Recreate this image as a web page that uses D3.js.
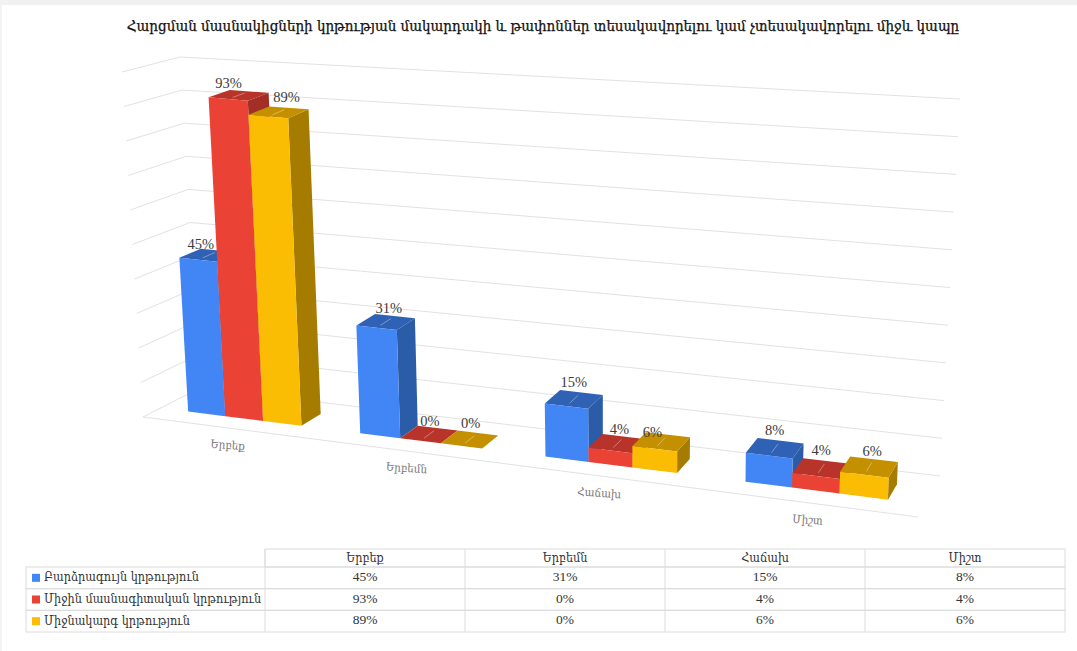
<!DOCTYPE html>
<html>
<head>
<meta charset="utf-8">
<script src="https://cdn.jsdelivr.net/npm/d3@7"></script>
<style>
  html, body { margin: 0; padding: 0; background: #fff; }
  svg { display: block; }
  text { font-family: "DejaVu Serif", "Liberation Serif", serif; font-stretch: condensed; }
  .num { font-family: "Liberation Serif", "DejaVu Serif", serif; font-stretch: normal; }
</style>
</head>
<body>
<div id="container"></div>
<script>
//---------- DATA ----------//
const title = "Հարցման մասնակիցների կրթության մակարդակի և թափոններ տեսակավորելու կամ չտեսակավորելու միջև կապը";
const categories = ["Երբեք", "Երբեմն", "Հաճախ", "Միշտ"];
const seriesNames = ["Բարձրագույն կրթություն", "Միջին մասնագիտական կրթություն", "Միջնակարգ կրթություն"];
const higher = [45, 31, 15, 8];
const vocational = [93, 0, 4, 4];
const secondary = [89, 0, 6, 6];
const gridValues = [0, 10, 20, 30, 40, 50, 60, 70, 80, 90, 100];

const seriesValues = [higher, vocational, secondary];
const front = ["#4285f4", "#ea4335", "#fbbc04"];
const side = ["#2a5ca8", "#a32e25", "#a67c00"];
const top_ = ["#2f62b5", "#b8342a", "#c49000"];

//---------- SVG ----------//
const width = 1077;
const height = 651;

const svg = d3.select("div#container")
    .append("svg")
    .attr("width", width)
    .attr("height", height);

// faint edge of the screenshot
svg.append("rect").attr("width", width).attr("height", 5).attr("fill", "#f1f1f1");
svg.append("rect").attr("y", 5).attr("width", 2).attr("height", height).attr("fill", "#f4f4f4");

svg.append("text")
    .attr("x", 543)
    .attr("y", 27)
    .attr("text-anchor", "middle")
    .attr("dominant-baseline", "middle")
    .attr("font-size", 15)
    .attr("fill", "#111")
    .attr("stroke", "#111")
    .attr("stroke-width", 0.25)
    .text(title);

//---------- SCALES ----------//
// corners of the 3d box as they land on the picture
const corners = {
    flb: [143, 417], flt: [122, 72], blb: [200, 388], blt: [180, 57],
    frb: [918, 517], frt: [925, 155], brb: [940, 476], brt: [960, 99]
};
const vanish = 1.165; // right hand side is nearer to the viewer

const xBand = d3.scaleBand().domain(categories).range([0, 1]).paddingInner(1 / 3).paddingOuter(1 / 6);
const xInner = d3.scaleBand().domain(seriesNames).range([0, xBand.bandwidth()]);
const yScale = d3.scaleLinear().domain([0, 100]).range([0, 1]);
const barFront = 0.31, barBack = 0.69;

const mix = (a, b, t) => [a[0] + (b[0] - a[0]) * t, a[1] + (b[1] - a[1]) * t];

// t along the categories, v the value, z the depth
function project(t, v, z) {
    const s = t / (t + vanish * (1 - t));
    const u = yScale(v);
    const fb = mix(corners.flb, corners.frb, s), ft = mix(corners.flt, corners.frt, s);
    const bb = mix(corners.blb, corners.brb, s), bt = mix(corners.blt, corners.brt, s);
    return mix(mix(fb, ft, u), mix(bb, bt, u), z);
}
const line = d3.line();
const closed = d3.line().curve(d3.curveLinearClosed);

//---------- GRID ----------//
const grid = svg.append("g")
    .attr("fill", "none")
    .attr("stroke", "#e2e2e2")
    .attr("stroke-width", 1);

gridValues.forEach(v => {
    grid.append("path").attr("d", line([project(0, v, 0), project(0, v, 1), project(1, v, 1)]));
});
grid.append("path").attr("d", line([project(0, 0, 0), project(1, 0, 0)]));

//---------- BARS ----------//
categories.forEach((c, i) => {
    const g = svg.append("g").attr("class", "group");
    seriesNames.forEach((name, j) => {
        const t0 = xBand(c) + xInner(name);
        const t1 = t0 + xInner.bandwidth();
        const v = seriesValues[j][i];
        const tm = (t0 + t1) / 2;

        g.append("path").attr("fill", side[j]).attr("d", closed([
            project(t1, 0, barFront), project(t1, 0, barBack), project(t1, v, barBack), project(t1, v, barFront)]));
        g.append("path").attr("fill", top_[j]).attr("d", closed([
            project(t0, v, barFront), project(t1, v, barFront), project(t1, v, barBack), project(t0, v, barBack)]));
        g.append("path").attr("fill", front[j]).attr("d", closed([
            project(t0, 0, barFront), project(t1, 0, barFront), project(t1, v, barFront), project(t0, v, barFront)]));
        // pale tick on the top face
        g.append("path")
            .attr("fill", "none")
            .attr("stroke", "#fff")
            .attr("stroke-opacity", 0.35)
            .attr("d", line([project(tm, v, barFront + 0.08), project(tm, v, barBack - 0.08)]));
    });
});

//---------- LABELS ----------//
const labels = svg.append("g")
    .attr("class", "num")
    .attr("font-size", 14.5)
    .attr("fill", "#3c3c3c")
    .attr("text-anchor", "middle")
    .attr("dominant-baseline", "middle");

// the chart moved some labels off the tall bars, keyed series-category
const nudge = {
    "0-0": [-8, 4], "1-0": [-10, 2], "2-0": [8, 0],
    "0-1": [3, 3], "1-1": [1, 4], "2-1": [1, 1],
    "1-2": [2, 3], "2-2": [-9, 8], "2-3": [3, 2]
};

categories.forEach((c, i) => {
    seriesNames.forEach((name, j) => {
        const tm = xBand(c) + xInner(name) + xInner.bandwidth() / 2;
        const v = seriesValues[j][i];
        const p = project(tm, v, (barFront + barBack) / 2);
        const b = project(tm, v, barBack);
        const n = nudge[j + "-" + i] || [0, 0];
        labels.append("text")
            .attr("class", "num")
            .attr("x", p[0] + n[0])
            .attr("y", b[1] - 9 + n[1])
            .text(v + "%");
    });
    const tm = xBand(c) + xBand.bandwidth() / 2;
    const p = project(tm, 0, 0);
    svg.append("text")
        .attr("text-anchor", "middle")
        .attr("dominant-baseline", "middle")
        .attr("font-size", 11.5)
        .attr("fill", "#777")
        .attr("transform", `translate(${p[0]},${p[1] + 18}) rotate(4)`)
        .text(c);
});

//---------- TABLE ----------//
const tableLeft = 26, firstCol = 265, tableRight = 1065;
const tableTop = 549, headBottom = 567, tableBottom = 632;
const colScale = d3.scaleBand().domain(categories).range([firstCol, tableRight]);
const rowScale = d3.scaleBand().domain(seriesNames).range([headBottom, tableBottom]);

const table = svg.append("g");
const cell = "#dcdcdc";

table.append("rect")
    .attr("x", firstCol).attr("y", tableTop)
    .attr("width", tableRight - firstCol).attr("height", headBottom - tableTop)
    .attr("fill", "none").attr("stroke", cell);
seriesNames.forEach(r => {
    table.append("rect")
        .attr("x", tableLeft).attr("y", rowScale(r))
        .attr("width", tableRight - tableLeft).attr("height", rowScale.bandwidth())
        .attr("fill", "none").attr("stroke", cell);
});
categories.forEach(c => {
    table.append("line")
        .attr("x1", colScale(c)).attr("x2", colScale(c))
        .attr("y1", tableTop).attr("y2", tableBottom)
        .attr("stroke", cell);
    table.append("text")
        .attr("x", colScale(c) + colScale.bandwidth() / 2)
        .attr("y", (tableTop + headBottom) / 2)
        .attr("text-anchor", "middle")
        .attr("dominant-baseline", "middle")
        .attr("font-size", 12.5)
        .attr("fill", "#333")
        .text(c);
});
seriesNames.forEach((name, j) => {
    const cy = rowScale(name) + rowScale.bandwidth() / 2;
    table.append("rect")
        .attr("x", 32).attr("y", cy - 4)
        .attr("width", 8).attr("height", 8)
        .attr("fill", front[j]);
    table.append("text")
        .attr("x", 44).attr("y", cy)
        .attr("dominant-baseline", "middle")
        .attr("font-size", 12.5)
        .attr("fill", "#333")
        .text(name);
    categories.forEach((c, i) => {
        table.append("text")
            .attr("class", "num")
            .attr("x", colScale(c) + colScale.bandwidth() / 2)
            .attr("y", cy)
            .attr("text-anchor", "middle")
            .attr("dominant-baseline", "middle")
            .attr("font-size", 13.5)
            .attr("fill", "#333")
            .text(seriesValues[j][i] + "%");
    });
});
</script>
</body>
</html>
